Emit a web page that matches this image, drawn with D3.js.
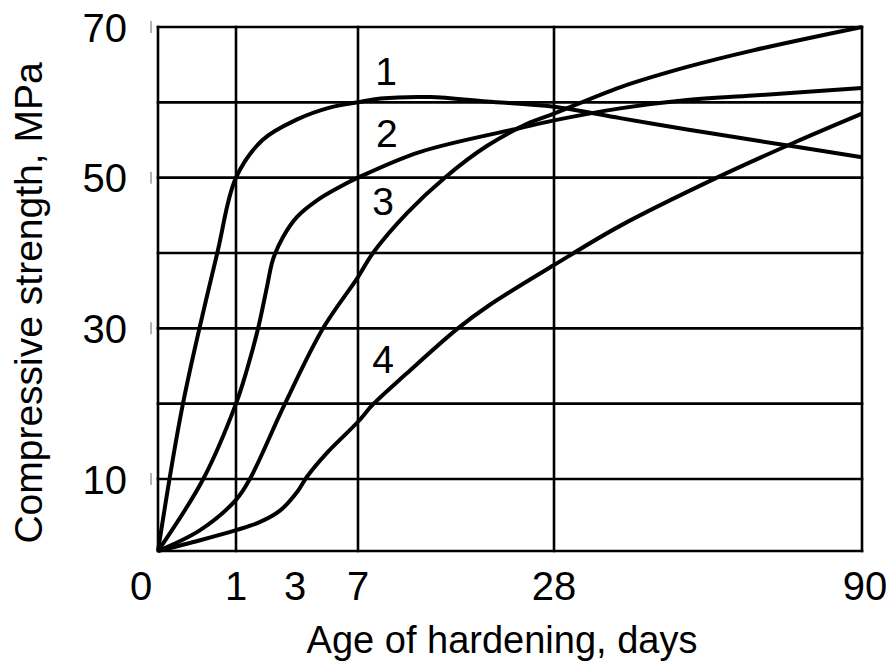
<!DOCTYPE html>
<html>
<head>
<meta charset="utf-8">
<script src="https://cdn.jsdelivr.net/npm/d3@7"></script>
<style>
  body { margin: 0; background: #fff; }
  text { font-family: "Liberation Sans", Arial, sans-serif; fill: #000; }
</style>
</head>
<body>
<div id="chart"></div>
<script>
// x ticks (days) and y ticks (MPa)
const dayTicks = [0, 1, 3, 7, 28, 90];
const dayGrid = [0, 1, 7, 28, 90];
const mpaGrid = [0, 10, 20, 30, 40, 50, 60, 70];
const mpaLabels = [10, 30, 50, 70];

// curves: [day, MPa]
const curve1 = [[0,0],[0.32,20],[0.76,40],[1,50],[1.9,55],[3.1,57.7],[5.2,59.3],[7,60],[9.4,60.5],[14.7,60.7],[20.8,60.1],[28,59.4],[41.3,57.9],[54.8,56.4],[68.1,55],[90,52.7]];
const curve2 = [[0,0],[0.58,10],[1,20],[1.37,24.5],[1.75,30],[2.05,35.5],[2.25,39.1],[2.59,42.1],[3.13,44.8],[4.4,47],[5.86,48.8],[7,50],[13.6,53.4],[24.4,56.6],[28,57.6],[41.3,59.2],[54.8,60.3],[68.1,60.9],[90,61.9]];
const curve3 = [[0,0],[0.54,2.9],[1,7.1],[1.47,10],[2.66,20],[4.78,30],[7,36.8],[8.6,40],[12.25,45.3],[16.3,50],[20.8,54.2],[25.4,57.3],[28,58.5],[41.3,62],[54.8,64.7],[68.1,66.9],[90,70]];
const curve4 = [[0,0],[0.54,1.5],[1,2.9],[1.8,4],[2.49,5.6],[3.17,8.3],[3.76,10.3],[5,13.4],[7,17.6],[8.6,19.9],[12.2,24],[17.7,30],[21.1,33.1],[28,38.4],[41.3,43.6],[60.8,50],[76.5,54.7],[90,58.5]];
const curves = [curve1, curve2, curve3, curve4];

const curveNames = ["1", "2", "3", "4"];
const nameDays = [10, 10.1, 9.7, 9.7];
const nameMpa = [62.3, 54.1, 45, 24.1];

const width = 889, height = 664;

const svg = d3.select("#chart")
    .append("svg")
    .attr("width", width)
    .attr("height", height);

// the day axis is stretched, not linear
const x = d3.scaleLinear()
    .domain([0, 1, 3, 7, 28, 90])
    .range([158, 236, 295, 358, 554, 862]);

const y = d3.scaleLinear()
    .domain([0, 10, 70])
    .range([551, 479, 27]);

// grid
svg.append("g")
    .selectAll("line")
    .data(dayGrid)
    .enter()
    .append("line")
    .attr("x1", d => x(d)).attr("x2", d => x(d))
    .attr("y1", y(0)).attr("y2", y(70))
    .attr("stroke", "#000")
    .attr("stroke-width", 2.6)
    .attr("stroke-linecap", "square");

svg.append("g")
    .selectAll("line")
    .data(mpaGrid)
    .enter()
    .append("line")
    .attr("x1", x(0)).attr("x2", x(90))
    .attr("y1", d => y(d)).attr("y2", d => y(d))
    .attr("stroke", "#000")
    .attr("stroke-width", 2.6)
    .attr("stroke-linecap", "square");

// little tick marks left of the frame
svg.append("g")
    .selectAll("line")
    .data(mpaLabels)
    .enter()
    .append("line")
    .attr("x1", 151).attr("x2", 151)
    .attr("y1", d => y(d) - 6).attr("y2", d => y(d) + 6)
    .attr("stroke", "#999")
    .attr("stroke-width", 1.5);

// curves
const line = d3.line()
    .x(d => x(d[0]))
    .y(d => y(d[1]))
    .curve(d3.curveCatmullRom.alpha(0.5));

svg.append("g")
    .selectAll("path")
    .data(curves)
    .enter()
    .append("path")
    .attr("d", line)
    .attr("fill", "none")
    .attr("stroke", "#000")
    .attr("stroke-width", 4)
    .attr("stroke-linejoin", "round");

// curve numbers
svg.append("g")
    .selectAll("text")
    .data(curveNames)
    .enter()
    .append("text")
    .attr("x", (d, i) => x(nameDays[i]))
    .attr("y", (d, i) => y(nameMpa[i]))
    .attr("text-anchor", "middle")
    .style("font-size", "39px")
    .text(d => d);

// y tick labels
svg.append("g")
    .selectAll("text")
    .data(mpaLabels)
    .enter()
    .append("text")
    .attr("x", 127)
    .attr("y", d => y(d))
    .attr("dy", "0.37em")
    .attr("text-anchor", "end")
    .style("font-size", "40px")
    .text(d => d);

// x tick labels
svg.append("g")
    .selectAll("text")
    .data(dayTicks)
    .enter()
    .append("text")
    .attr("x", d => x(d) + (d === 0 ? -17 : d === 90 ? 3 : 0))
    .attr("y", 600)
    .attr("text-anchor", "middle")
    .style("font-size", "40px")
    .text(d => d);

// axis titles
svg.append("text")
    .attr("x", 502)
    .attr("y", 653)
    .attr("text-anchor", "middle")
    .style("font-size", "38px")
    .text("Age of hardening, days");

svg.append("text")
    .attr("transform", "translate(42,303) rotate(-90)")
    .attr("text-anchor", "middle")
    .style("font-size", "39px")
    .text("Compressive strength, MPa");
</script>
</body>
</html>
